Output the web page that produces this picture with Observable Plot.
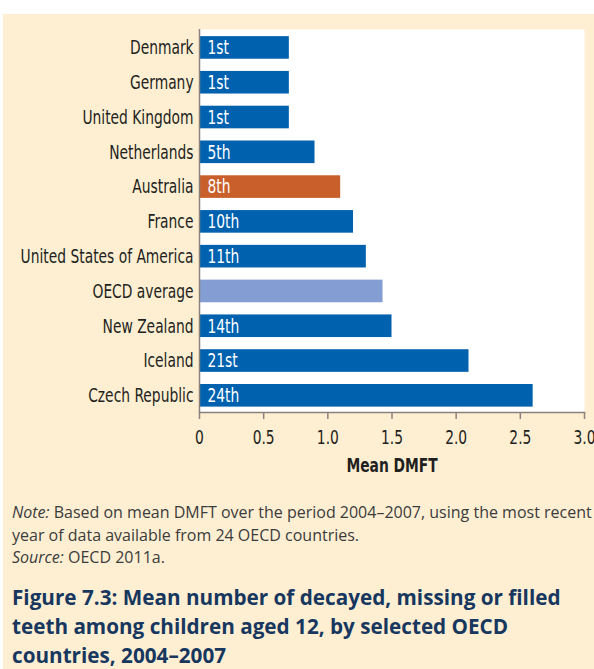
<!DOCTYPE html>
<html><head><meta charset="utf-8">
<script src="https://cdn.jsdelivr.net/npm/d3@7"></script>
<script src="https://cdn.jsdelivr.net/npm/@observablehq/plot@0.6"></script>
<style>
html,body{margin:0;padding:0;background:#fff;}
body{width:594px;height:669px;overflow:hidden;position:relative;}
#panel{position:absolute;left:3px;top:14px;width:591px;height:655px;background:#FEEFD3;}
#chart{position:absolute;left:0;top:0;}
#note{position:absolute;left:9px;top:487px;font-family:"Open Sans",sans-serif;font-size:16px;line-height:22.5px;color:#3b3b3b;white-space:nowrap;}
#title{position:absolute;left:9px;top:569px;font-family:"Open Sans",sans-serif;font-weight:700;font-size:20.7px;line-height:29px;color:#17375f;white-space:nowrap;}
</style>
</head><body>
<div id="panel"><div id="chart"></div>
<div id="note"><i>Note:</i> Based on mean DMFT over the period 2004–2007, using the most recent<br>year of data available from 24 OECD countries.<br><i>Source:</i> OECD 2011a.</div>
<div id="title">Figure 7.3: Mean number of decayed, missing or filled<br>teeth among children aged 12, by selected OECD<br>countries, 2004–2007</div>
</div>
<script>
const countries = ["Denmark","Germany","United Kingdom","Netherlands","Australia","France","United States of America","OECD average","New Zealand","Iceland","Czech Republic"];
const values = [0.70,0.70,0.70,0.90,1.10,1.20,1.30,1.43,1.50,2.10,2.60];
const ranks = ["1st","1st","1st","5th","8th","10th","11th","","14th","21st","24th"];
const groups = ["country","country","country","country","Australia","country","country","average","country","country","country"];
const xTicks = [0,0.5,1.0,1.5,2.0,2.5,3.0];
const axisTitle = "Mean DMFT";

const palette = {country:"#0061AF", Australia:"#C9602C", average:"#849ED3"};
const data = countries.map((c,i)=>({country:c, value:values[i], rank:ranks[i], group:groups[i]}));
const condensed = '"DejaVu Sans Condensed","DejaVu Sans",sans-serif';

const chart = Plot.plot({
  width: 591,
  height: 472,
  marginLeft: 196,
  marginRight: 10,
  marginTop: 15,
  marginBottom: 74,
  style: {fontFamily: condensed, background: "transparent", color: "#231F20"},
  x: {domain: [0,3]},
  y: {domain: countries, paddingInner: 0.35, paddingOuter: 0.18, align: 0.57, round: false},
  color: {type: "identity"},
  marks: [
    Plot.frame({fill: "white", stroke: null}),
    Plot.barX(data, {x: "value", y: "country", fill: d => palette[d.group]}),
    Plot.text(data, {x: 0, y: "country", text: "rank", dx: 8, textAnchor: "start", fill: "white", fontSize: 20}),
    Plot.ruleX([0], {stroke: "#8b837b", strokeWidth: 1.5}),
    Plot.frame({anchor: "bottom", stroke: "#8b837b", strokeWidth: 1.5}),
    Plot.axisY({tickSize: 0, tickPadding: 6, fontSize: 20, label: null, fill: "#231F20"}),
    Plot.axisX({ticks: xTicks, tickFormat: d => d === 0 ? "0" : d.toFixed(1), tickSize: 7, tickPadding: 10, fontSize: 20, stroke: "#8b837b", strokeWidth: 1.5, label: null, fill: "#231F20"}),
    Plot.text([axisTitle], {frameAnchor: "bottom", dy: 59, fontSize: 20, fontWeight: "bold", fill: "#231F20"})
  ]
});
document.getElementById("chart").appendChild(chart);
// horizontally condense texts (about their anchor point) to mimic a condensed typeface
const k = 0.77;
chart.querySelectorAll("text").forEach(t => {
  const bb = t.getBBox();
  if (!bb.width) return;
  const anchor = getComputedStyle(t).textAnchor;
  const ax = anchor === "end" ? bb.x + bb.width : anchor === "middle" ? bb.x + bb.width / 2 : bb.x;
  const prev = t.getAttribute("transform") || "";
  t.setAttribute("transform", `${prev} translate(${ax},0) scale(${k},1) translate(${-ax},0)`.trim());
});
</script>
</body></html>
